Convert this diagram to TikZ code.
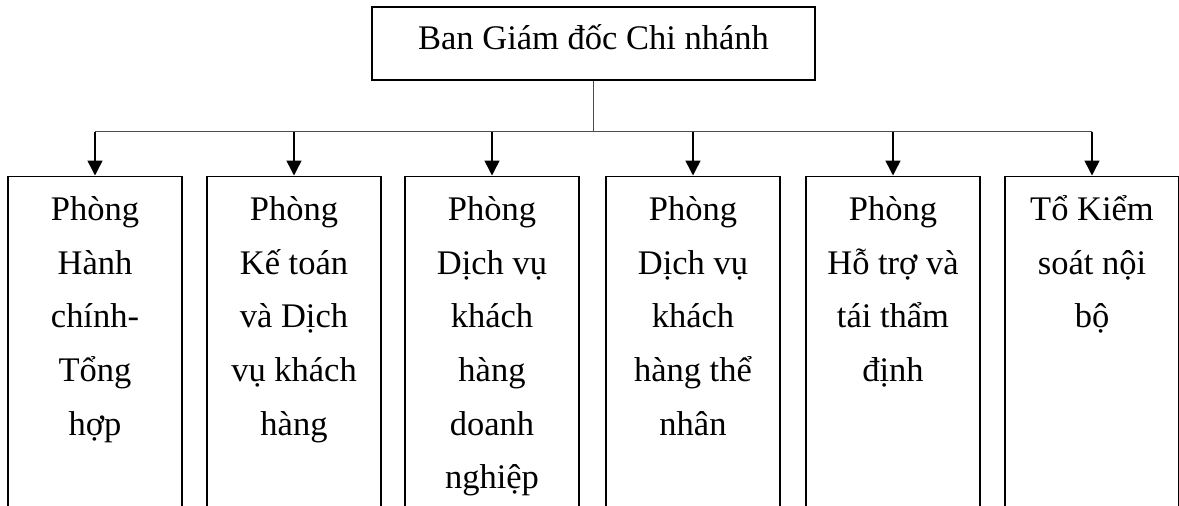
\documentclass[tikz,border=0pt]{standalone}
\usepackage{fontspec}
\setmainfont{Liberation Serif}
\usetikzlibrary{arrows.meta}
\def\toprow{\rule{0pt}{37.6pt}}
\tikzset{
	head/.style={draw, line width=1.5pt, inner sep=0pt, minimum width=443pt, text height=42.5pt, text depth=30.5pt, anchor=base, font=\fontsize{34.5}{53.7}\selectfont},
	unit/.style={draw, line width=1.5pt, inner sep=0pt, minimum width=174pt, minimum height=400pt, anchor=north},
	unittext/.style={inner sep=0pt, anchor=north, align=center, font=\fontsize{34.5}{53.7}\selectfont},
	bus/.style={line width=0.8pt, color=black!70},
	feed/.style={line width=1.5pt, -{Triangle[width=15pt,length=15pt]}}
}

\begin{document}
\begin{tikzpicture}[x=1pt, y=1pt]
			%%%%% START %%%%%
			
			\useasboundingbox (0, 0) rectangle (1179, -506);
			\clip (0, 0) rectangle (1179, -506);
			
			\node[head] (ban) at (593.5, -49.5) {Ban Giám đốc Chi nhánh};
			
			\node[unit] (hc) at (95, -175.5) {};
			\node[unit] (kt) at (294, -175.5) {};
			\node[unit] (dn) at (492, -175.5) {};
			\node[unit] (cn) at (693, -175.5) {};
			\node[unit] (ht) at (893, -175.5) {};
			\node[unit] (ks) at (1092, -175.5) {};
			
			\node[unittext] (hctext) at ([yshift=-7pt]hc.north) {\toprow Phòng\\Hành\\chính-\\Tổng\\hợp};
			\node[unittext] (kttext) at ([yshift=-7pt]kt.north) {\toprow Phòng\\Kế toán\\và Dịch\\vụ khách\\hàng};
			\node[unittext] (dntext) at ([yshift=-7pt]dn.north) {\toprow Phòng\\Dịch vụ\\khách\\hàng\\doanh\\nghiệp};
			\node[unittext] (cntext) at ([yshift=-7pt]cn.north) {\toprow Phòng\\Dịch vụ\\khách\\hàng thể\\nhân};
			\node[unittext] (httext) at ([yshift=-7pt]ht.north) {\toprow Phòng\\Hỗ trợ và\\tái thẩm\\định};
			\node[unittext] (kstext) at ([yshift=-7pt]ks.north) {\toprow Tổ Kiểm\\soát nội\\bộ};
			
			\coordinate (jhc) at (95, -131.7);
			\coordinate (jkt) at (294, -131.7);
			\coordinate (jdn) at (492, -131.7);
			\coordinate (jcn) at (693, -131.7);
			\coordinate (jht) at (893, -131.7);
			\coordinate (jks) at (1092, -131.7);
			
			\draw[bus] (ban.south) -- (ban.south |- jhc);
			\draw[bus] (jhc) -- (jks);
			
			\draw[feed] (jhc) -- (hc);
			\draw[feed] (jkt) -- (kt);
			\draw[feed] (jdn) -- (dn);
			\draw[feed] (jcn) -- (cn);
			\draw[feed] (jht) -- (ht);
			\draw[feed] (jks) -- (ks);
			
			%%%%% END %%%%%
\end{tikzpicture}
\end{document}
